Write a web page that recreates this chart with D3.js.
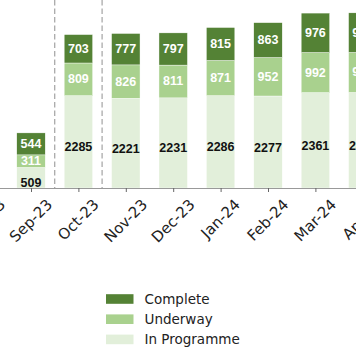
<!DOCTYPE html>
<html>
<head>
<meta charset="utf-8">
<script src="https://cdn.jsdelivr.net/npm/d3@7"></script>
<style>
  html, body { margin: 0; padding: 0; background: #fff; }
  svg { display: block; }
</style>
</head>
<body>
<svg id="chart" width="356" height="364"></svg>
<script>
// ---- data ----
const categories = ["Aug-23", "Sep-23", "Oct-23", "Nov-23", "Dec-23", "Jan-24", "Feb-24", "Mar-24", "Apr-24"];
const inProgramme = [null, 509, 2285, 2221, 2231, 2286, 2277, 2361, 2365];
const underway    = [null, 311,  809,  826,  811,  871,  952,  992,  990];
const complete    = [null, 544,  703,  777,  797,  815,  863,  976,  980];
const seriesNames = ["Complete", "Underway", "In Programme"];
const dividerAfter = ["Sep-23", "Oct-23"];

// ---- styles ----
const colors = { "Complete": "#548235", "Underway": "#a9d18e", "In Programme": "#e2efda" };
const labelColors = { "Complete": "#ffffff", "Underway": "#ffffff", "In Programme": "#111111" };

const svg = d3.select("#chart");
const baseline = 188;

const x = d3.scalePoint()
  .domain(categories)
  .range([-40.1, -40.1 + 47.4 * categories.length])
  .padding(0.5);
const step = x.step();
const barW = step * 0.6;

const y = d3.scaleLinear().domain([0, 4653]).range([baseline, 0]);

// stacked data
const rows = categories.map((c, i) => ({
  cat: c,
  "In Programme": inProgramme[i],
  "Underway": underway[i],
  "Complete": complete[i]
})).filter(d => d["In Programme"] != null);

const stack = d3.stack().keys(["In Programme", "Underway", "Complete"]);
const layers = stack(rows);

// divider lines
svg.append("g").selectAll("line")
  .data(dividerAfter)
  .join("line")
  .attr("x1", d => x(d) + step / 2)
  .attr("x2", d => x(d) + step / 2)
  .attr("y1", 0)
  .attr("y2", baseline)
  .attr("stroke", "#aaaaaa")
  .attr("stroke-width", 1.3)
  .attr("stroke-dasharray", "5.5,3");

// bars
const gBars = svg.append("g");
layers.forEach(layer => {
  const key = layer.key;
  gBars.append("g").selectAll("rect")
    .data(layer)
    .join("rect")
    .attr("x", d => x(d.data.cat) - barW / 2)
    .attr("width", barW)
    .attr("y", d => y(d[1]))
    .attr("height", d => y(d[0]) - y(d[1]))
    .attr("fill", colors[key])
    .attr("stroke", "#ffffff")
    .attr("stroke-width", 0.4);
});

// value labels
layers.forEach(layer => {
  const key = layer.key;
  const off = key === "In Programme" ? 5.5 : 0;
  gBars.append("g").selectAll("text")
    .data(layer)
    .join("text")
    .attr("x", d => x(d.data.cat))
    .attr("y", d => (y(d[0]) + y(d[1])) / 2 + off)
    .attr("text-anchor", "middle")
    .attr("dominant-baseline", "central")
    .attr("font-family", "'Liberation Sans', Arial, sans-serif")
    .attr("font-weight", "bold")
    .attr("font-size", 12.5)
    .attr("fill", labelColors[key])
    .text(d => d.data[key]);
});

// x axis
const axis = svg.append("g")
  .attr("transform", `translate(0,${baseline})`)
  .call(d3.axisBottom(x).tickSize(4).tickSizeOuter(0).tickFormat(""));
axis.select(".domain").attr("stroke", "#999999").attr("stroke-width", 1);
axis.selectAll(".tick line").attr("stroke", "#666666").attr("stroke-width", 1);

// rotated tick labels (bbox centered on tick, top fixed)
const labelTop = 198;
const fs = 15;
const tl = svg.append("g").selectAll("text")
  .data(categories)
  .join("text")
  .attr("font-family", "'DejaVu Sans', sans-serif")
  .attr("font-size", fs)
  .attr("fill", "#222222")
  .attr("text-anchor", "middle")
  .attr("dominant-baseline", "central")
  .text(d => d);
tl.each(function(d) {
  const L = this.getComputedTextLength();
  const h = fs * 0.76;
  const cy = labelTop + (L + h) * Math.SQRT1_2 / 2;
  d3.select(this).attr("transform", `translate(${x(d)},${cy}) rotate(-45)`);
});

// legend
const legend = svg.append("g").attr("transform", "translate(106,299)");
seriesNames.forEach((s, i) => {
  const g = legend.append("g").attr("transform", `translate(0,${i * 20.2})`);
  g.append("rect")
    .attr("x", 0).attr("y", -4.8)
    .attr("width", 27.5).attr("height", 9.6)
    .attr("fill", colors[s]);
  g.append("text")
    .attr("x", 38.5).attr("y", 0)
    .attr("dominant-baseline", "central")
    .attr("font-family", "'DejaVu Sans', sans-serif")
    .attr("font-size", 13.5)
    .attr("fill", "#222222")
    .text(s);
});
</script>
</body>
</html>
